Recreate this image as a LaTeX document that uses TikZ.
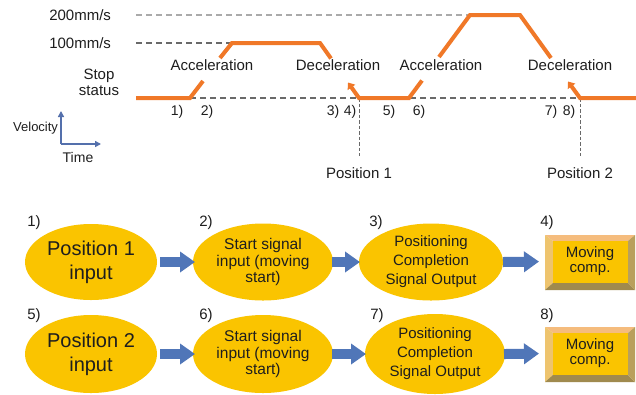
\documentclass[tikz,border=0pt]{standalone}
\usepackage{fontspec}
\setmainfont{Liberation Sans}
\usetikzlibrary{arrows.meta,shapes.geometric}
\definecolor{orng}{RGB}{240,120,40}
\definecolor{gold}{RGB}{250,196,0}
\definecolor{barrow}{RGB}{80,118,184}
\definecolor{axblue}{RGB}{84,112,172}
\definecolor{dgrey}{RGB}{105,105,105}
\definecolor{lgrey}{RGB}{170,170,170}
\definecolor{txt}{RGB}{30,30,30}
\definecolor{bevtop}{RGB}{245,188,125}
\definecolor{bevleft}{RGB}{238,196,110}
\definecolor{bevbot}{RGB}{160,138,78}
\definecolor{bevright}{RGB}{185,160,92}
\tikzset{
  vel/.style={draw=orng, line width=4bp},
  velwedge/.style={vel, {Triangle[length=6bp,width=9bp]}-},
  dashg/.style={draw=dgrey, line width=1.3bp, dash pattern=on 6bp off 4bp},
  dashl/.style={draw=lgrey, line width=1.1bp, dash pattern=on 6bp off 4bp},
  dashv/.style={draw=dgrey, line width=1bp, dash pattern=on 3.5bp off 2bp},
  axarrow/.style={draw=axblue, line width=1.6bp, -{Triangle[length=6bp,width=6bp]}},
  ctext/.style={font=\fontsize{15bp}{17bp}\selectfont, text=txt, anchor=base},
  clabel/.style={font=\fontsize{14bp}{16bp}\selectfont, text=txt, anchor=base},
  ell/.style={ellipse, fill=gold, inner sep=0pt, align=center, text=txt},
  bigtxt/.style={font=\fontsize{20bp}{24bp}\selectfont},
  midtxt/.style={font=\fontsize{15.5bp}{16.5bp}\selectfont},
  comptxt/.style={font=\fontsize{15bp}{19bp}\selectfont},
  rlabel/.style={font=\fontsize{15bp}{17bp}\selectfont, text=txt, anchor=base, fill=white, inner sep=1.5bp},
  barr/.style={draw=barrow, line width=10bp, -{Triangle[length=15bp,width=20bp]}},
  bevbox/.pic={
    \fill[bevtop] (0,0) -- (90,0) -- (83,6) -- (8,6) -- cycle;
    \fill[bevleft] (0,0) -- (8,6) -- (8,48) -- (0,55) -- cycle;
    \fill[bevbot] (0,55) -- (8,48) -- (83,48) -- (90,55) -- cycle;
    \fill[bevright] (90,0) -- (90,55) -- (83,48) -- (83,6) -- cycle;
    \fill[gold] (8,6) rectangle (83,48);
  },
}
\begin{document}
\begin{tikzpicture}[x=1bp,y=-1bp, every node/.style={inner sep=0pt, outer sep=0pt}]
\useasboundingbox (0,0) rectangle (636,394);
\fill[white] (0,0) rectangle (636,394);

% ---- velocity chart ----
\coordinate (d200a) at (136,15);  \coordinate (d200b) at (470,15);
\coordinate (d100a) at (136,43);  \coordinate (d100b) at (232,43);
\coordinate (d0a) at (190,98);    \coordinate (d0b) at (580,98);
\coordinate (p1a) at (359,98);    \coordinate (p1b) at (359,156);
\coordinate (p2a) at (580,98);    \coordinate (p2b) at (580,156);
\draw[dashl] (d200a) -- (d200b);
\draw[dashg] (d100a) -- (d100b);
\draw[dashg] (d0a) -- (d0b);
\draw[dashv] (p1a) -- (p1b);
\draw[dashv] (p2a) -- (p2b);

\draw[vel] (136,98) -- (190,98) -- (203,81);
\draw[vel] (220,58) -- (232,43) -- (320,43) -- (331,58.5);
\draw[velwedge] (348,82.5) -- (359,98) -- (409,98) -- (422,80.5);
\draw[vel] (439,57) -- (470,15) -- (520,15) -- (551,58);
\draw[velwedge] (568,81.5) -- (580,98) -- (636,98);

\node[ctext, anchor=base east] (v200) at (111,20.5) {200mm/s};
\node[ctext, anchor=base east] (v100) at (111,48) {100mm/s};
\node[font=\fontsize{15bp}{16bp}\selectfont, text=txt, align=center] (stop) at (99,82) {Stop\\status};
\node[ctext] (acc1) at (212,70.5) {Acceleration};
\node[ctext] (dec1) at (338,70.5) {Deceleration};
\node[ctext] (acc2) at (441,70.5) {Acceleration};
\node[ctext] (dec2) at (570,70.5) {Deceleration};
\node[ctext] (pos1) at (359,178.5) {Position 1};
\node[ctext] (pos2) at (580,178.5) {Position 2};

\node[clabel] (l1) at (177,115.5) {1)};
\node[clabel] (l2) at (207,115.5) {2)};
\node[clabel] (l3) at (333,115.5) {3)};
\node[clabel] (l4) at (350,115.5) {4)};
\node[clabel] (l5) at (389,115.5) {5)};
\node[clabel] (l6) at (419,115.5) {6)};
\node[clabel] (l7) at (551,115.5) {7)};
\node[clabel] (l8) at (569,115.5) {8)};

% axes
\coordinate (ax0) at (61,144);
\coordinate (axv) at (61,111);
\coordinate (axh) at (101,144);
\draw[axarrow] (ax0) -- (axv);
\draw[axarrow] (ax0) -- (axh);
\node[font=\fontsize{13bp}{15bp}\selectfont, text=txt, anchor=base east] (velo) at (58,131.5) {Velocity};
\node[font=\fontsize{14bp}{16bp}\selectfont, text=txt, anchor=base] (time) at (78,162) {Time};

% ---- flow row 1 ----
\node[ell, minimum width=132bp, minimum height=76bp, bigtxt] (e1) at (91,262) {Position 1\\input};
\node[ell, minimum width=140bp, minimum height=77bp, midtxt] (e2) at (263,262) {Start signal\\input (moving\\start)};
\node[ell, minimum width=144bp, minimum height=77bp, comptxt] (e3) at (431,262) {Positioning\\Completion\\Signal Output};
\pic at (545,235) {bevbox};
\node[minimum width=90bp, minimum height=55bp, align=center, text=txt, font=\fontsize{15bp}{15bp}\selectfont] (b4) at (590,261.5) {Moving\\comp.};
\draw[barr, shorten <=3bp, shorten >=-2bp] (e1.east) -- (e2.west);
\draw[barr, shorten <=-1bp, shorten >=-1bp] (e2.east) -- (e3.west);
\draw[barr, shorten <=0bp, shorten >=6bp] (e3.east) -- (b4.west);
\node[rlabel] (n1) at (34,226) {1)};
\node[rlabel] (n2) at (206,226) {2)};
\node[rlabel] (n3) at (376,226) {3)};
\node[rlabel] (n4) at (547,226) {4)};

% ---- flow row 2 ----
\node[ell, minimum width=132bp, minimum height=78bp, bigtxt] (e5) at (91,354) {Position 2\\input};
\node[ell, minimum width=140bp, minimum height=78bp, midtxt] (e6) at (263,354) {Start signal\\input (moving\\start)};
\node[ell, minimum width=140bp, minimum height=80bp, comptxt] (e7) at (435,354) {Positioning\\Completion\\Signal Output};
\pic at (545,327) {bevbox};
\node[minimum width=90bp, minimum height=55bp, align=center, text=txt, font=\fontsize{15bp}{15bp}\selectfont] (b8) at (590,353.5) {Moving\\comp.};
\draw[barr, shorten <=3bp, shorten >=-2bp] (e5.east) -- (e6.west);
\draw[barr, shorten <=-1bp, shorten >=-1bp] (e6.east) -- (e7.west);
\draw[barr, shorten <=-1bp, shorten >=6bp] (e7.east) -- (b8.west);
\node[rlabel] (n5) at (34,319) {5)};
\node[rlabel] (n6) at (206,319) {6)};
\node[rlabel] (n7) at (377,319) {7)};
\node[rlabel] (n8) at (547,319) {8)};
\end{tikzpicture}
\end{document}
